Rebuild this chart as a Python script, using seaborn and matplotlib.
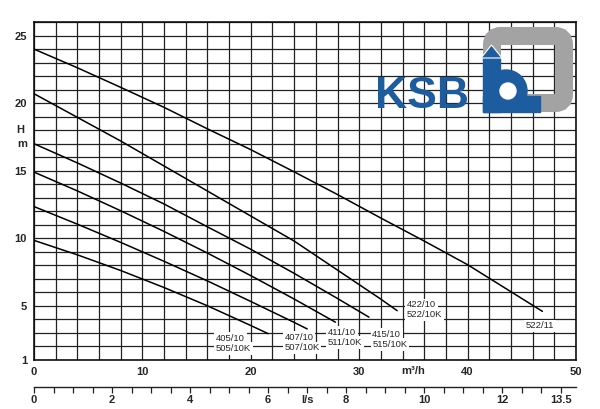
import numpy as np
import pandas as pd
import seaborn as sns
import matplotlib.pyplot as plt
from matplotlib.patches import Rectangle, Circle, Polygon, FancyBboxPatch
from matplotlib.ticker import MultipleLocator

# pump curves: flow Q (m3/h) vs head H (m)
q_405 = [0, 4, 8, 12, 16, 20, 21.6]
h_405 = [9.85, 8.78, 7.62, 6.36, 5.01, 3.55, 2.95]
q_407 = [0, 4, 8, 12, 16, 20, 24, 25.2]
h_407 = [12.35, 11.05, 9.7, 8.3, 6.85, 5.33, 3.78, 3.3]
q_411 = [0, 4, 8, 12, 16, 20, 24, 27.8]
h_411 = [14.9, 13.51, 12.04, 10.51, 8.91, 7.24, 5.51, 3.8]
q_415 = [0, 4, 8, 12, 16, 20, 24, 28, 30.9]
h_415 = [17.0, 15.58, 14.09, 12.54, 10.85, 9.19, 7.41, 5.55, 4.17]
q_422 = [0, 4, 8, 12, 16, 20, 24, 28, 32, 33.5]
h_422 = [20.7, 18.95, 17.2, 15.35, 13.5, 11.65, 9.8, 7.65, 5.5, 4.65]
q_522 = [0, 4, 8, 12, 16, 20, 24, 28, 32, 36, 40, 44, 46.9]
h_522 = [24.0, 22.62, 21.17, 19.69, 18.1, 16.56, 14.92, 13.24, 11.5, 9.8, 8.05, 6.05, 4.6]

models = ['405', '407', '411', '415', '422', '522']
label_top = ['405/10', '407/10', '411/10', '415/10', '422/10', '522/11']
label_bot = ['505/10K', '507/10K', '511/10K', '515/10K', '522/10K', '']

# axis ticks
x_labels = {0: '0', 10: '10', 20: '20', 30: '30', 40: '40', 50: '50'}
y_labels = {1: '1', 5: '5', 10: '10', 15: '15', 20: '20', 25: '25'}
ls_ticks = [0, 2, 4, 6, 7, 8, 10, 12, 13.5]
ls_labels = ['0', '2', '4', '6', 'l/s', '8', '10', '12', '13.5']

frames = []
for m, q, h in zip(models, [q_405, q_407, q_411, q_415, q_422, q_522],
                   [h_405, h_407, h_411, h_415, h_422, h_522]):
    frames.append(pd.DataFrame({'Q': q, 'H': h, 'model': m}))
df = pd.concat(frames, ignore_index=True)

sns.set_style('white')
plt.rcParams['font.family'] = ['Liberation Sans', 'DejaVu Sans']
plt.rcParams['font.weight'] = 'bold'

fig = plt.figure(figsize=(6, 4.09), dpi=100)
ax = fig.add_axes([0.0567, 0.1198, 0.9033, 0.8262])

sns.lineplot(data=df, x='Q', y='H', hue='model', palette={m: 'black' for m in models},
             estimator=None, sort=False, legend=False, lw=1.1, ax=ax, zorder=3)

ax.set_xlim(0, 50)
ax.set_ylim(1, 26)
ax.set_xticks(np.arange(0, 51, 2))
ax.set_xticklabels([x_labels.get(int(v), '') for v in np.arange(0, 51, 2)])
ax.set_yticks(np.arange(1, 27, 1))
ax.set_yticklabels([y_labels.get(int(v), '') for v in np.arange(1, 27, 1)])
ax.grid(True, color='#222222', lw=0.9)
ax.tick_params(axis='both', direction='out', length=3, width=0.9, color='#222222',
               labelsize=8, pad=2)
ax.set_xlabel('')
ax.set_ylabel('')
for s in ax.spines.values():
    s.set_visible(True)
    s.set_color('#111111')
    s.set_linewidth(1.2)

ax.text(-0.026, 18, 'H', transform=ax.get_yaxis_transform(), ha='center', va='center', fontsize=8)
ax.text(-0.022, 17, 'm', transform=ax.get_yaxis_transform(), ha='center', va='center', fontsize=8)
ax.text(35, -0.018, 'm³/h', transform=ax.get_xaxis_transform(), ha='center', va='top', fontsize=8)

# curve labels
lab_q = [16.8, 23.1, 27.1, 31.2, 34.4, 45.4]
lab_h1 = [2.6, 2.65, 3.05, 2.9, 5.07, 3.53]
lab_h2 = [1.85, 1.9, 2.3, 2.15, 4.33, 0]
box = dict(facecolor='white', edgecolor='none', pad=1.2)
for t1, t2, x, y1, y2 in zip(label_top, label_bot, lab_q, lab_h1, lab_h2):
    ax.text(x, y1, t1, fontsize=6.8, fontweight='normal', va='center', ha='left', bbox=box, zorder=4)
    if t2:
        ax.text(x, y2, t2, fontsize=6.8, fontweight='normal', va='center', ha='left', bbox=box, zorder=4)

# second flow scale in l/s
sec = ax.secondary_xaxis(-0.08, functions=(lambda q: q / 3.6, lambda l: l * 3.6))
sec.set_xticks(ls_ticks)
sec.set_xticklabels(ls_labels)
sec.xaxis.set_minor_locator(MultipleLocator(0.5))
sec.tick_params(which='both', direction='out', length=4, width=0.9, color='#222222',
                labelsize=8, pad=2)
sec.spines['bottom'].set_linewidth(1.0)
sec.spines['bottom'].set_color('#222222')

# KSB logo in pixel coordinates
ov = fig.add_axes([0, 0, 1, 1], zorder=5)
ov.set_xlim(0, 600)
ov.set_ylim(409, 0)
ov.axis('off')
blue = '#1d5c9e'
grey = '#a3a3a3'
ov.add_patch(FancyBboxPatch((492, 36), 72, 67, boxstyle='round,pad=0,rounding_size=9',
                            fc='none', ec=grey, lw=13))
ov.add_patch(Circle((506, 91), 21, color=blue))
ov.add_patch(Rectangle((483, 56), 17, 56, color=blue))
ov.add_patch(Rectangle((483, 96), 57, 16, color=blue))
ov.add_patch(Polygon([(481, 58), (491.5, 45), (502, 58)], closed=True, fc=blue, ec='white', lw=0.8))
ov.add_patch(Circle((508, 91), 8, color='white'))
ov.text(422, 96, 'KSB', ha='center', va='center', color=blue, fontsize=32, fontweight='heavy')

fig.savefig('out.png', dpi=100)
